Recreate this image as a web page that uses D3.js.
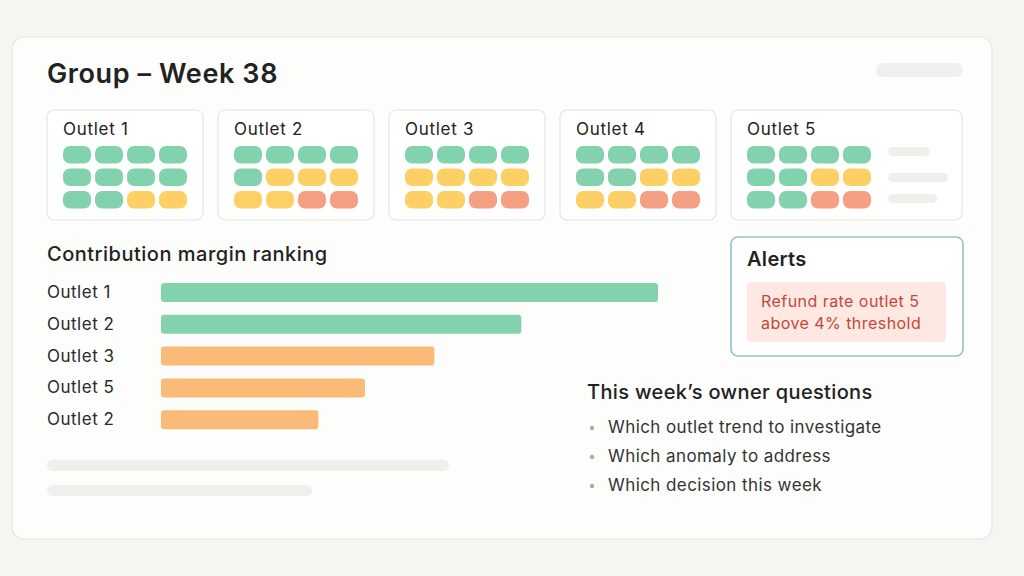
<!DOCTYPE html>
<html><head><meta charset="utf-8">
<script src="https://cdn.jsdelivr.net/npm/d3@7"></script>
<style>
html,body{margin:0;padding:0;background:#f7f5f1;}
svg{display:block;font-family:Inter,"Noto Sans",sans-serif;}
</style></head>
<body>
<svg id="chart" width="1024" height="576"></svg>
<script>
// ---- data ----
const pageTitle = "Group – Week 38";
const outlets = ["Outlet 1", "Outlet 2", "Outlet 3", "Outlet 4", "Outlet 5"];
// status tiles per outlet, 3 rows x 4 cols (g = good, y = watch, r = alert)
const outlet1Tiles = ["g","g","g","g", "g","g","g","g", "g","g","y","y"];
const outlet2Tiles = ["g","g","g","g", "g","y","y","y", "y","y","r","r"];
const outlet3Tiles = ["g","g","g","g", "y","y","y","y", "y","y","r","r"];
const outlet4Tiles = ["g","g","g","g", "g","g","y","y", "y","y","r","r"];
const outlet5Tiles = ["g","g","g","g", "g","g","y","y", "g","g","r","r"];
const tileSets = [outlet1Tiles, outlet2Tiles, outlet3Tiles, outlet4Tiles, outlet5Tiles];

const rankingTitle = "Contribution margin ranking";
const rankLabels = ["Outlet 1", "Outlet 2", "Outlet 3", "Outlet 5", "Outlet 2"];
const rankValues = [48.0, 34.8, 26.4, 19.7, 15.2];
const rankStatus = ["g", "g", "o", "o", "o"];

const alertsTitle = "Alerts";
const alertLines = ["Refund rate outlet 5", "above 4% threshold"];

const questionsTitle = "This week’s owner questions";
const questions = ["Which outlet trend to investigate", "Which anomaly to address", "Which decision this week"];

// ---- styles ----
const colors = {g: "#82d2ad", y: "#fcd064", r: "#f59f83", o: "#fbbb78"};
const ink = "#222222";
const placeholder = "#f0efeb";

const svg = d3.select("#chart");

// main card
svg.append("rect").attr("x", 12).attr("y", 37).attr("width", 980).attr("height", 502)
  .attr("rx", 12).attr("fill", "#fdfdfc").attr("stroke", "#e8e6e1").attr("stroke-width", 1.2);

svg.append("text").attr("x", 47).attr("y", 83).attr("font-size", 27).attr("font-weight", 600)
  .attr("letter-spacing", 0.6).attr("fill", ink).text(pageTitle);
svg.append("rect").attr("x", 876).attr("y", 63).attr("width", 87).attr("height", 14).attr("rx", 7)
  .attr("fill", placeholder);

// outlet cards
const cardW = 156, cardStep = 171;
const tileCol = d3.scaleBand().domain(d3.range(4)).range([63, 63 + 3 * 32 + 28]).paddingInner(4 / 32).paddingOuter(0);
const tileRow = d3.scaleBand().domain(d3.range(3)).range([146, 146 + 2 * 22.5 + 17.5]).paddingInner(5 / 22.5).paddingOuter(0);

outlets.forEach((name, i) => {
  const dx = i * cardStep;
  const w = i === 4 ? 231 : cardW;
  const g = svg.append("g").attr("transform", `translate(${dx},0)`);
  g.append("rect").attr("x", 47).attr("y", 110).attr("width", w).attr("height", 110).attr("rx", 7)
    .attr("fill", "#ffffff").attr("stroke", "#e6e4df").attr("stroke-width", 1.2);
  g.append("text").attr("x", 63).attr("y", 135).attr("font-size", 17).attr("letter-spacing", 0.7)
    .attr("fill", ink).text(name);
  g.selectAll("rect.tile").data(tileSets[i]).join("rect").attr("class", "tile")
    .attr("x", (d, k) => tileCol(k % 4)).attr("y", (d, k) => tileRow(Math.floor(k / 4)))
    .attr("width", tileCol.bandwidth()).attr("height", tileRow.bandwidth()).attr("rx", 7)
    .attr("fill", d => colors[d]);
  if (i === 4) {
    const ph = [[147, 42], [173, 60], [194, 49]];
    ph.forEach(p => g.append("rect").attr("x", 888 - dx).attr("y", p[0]).attr("width", p[1])
      .attr("height", 9).attr("rx", 4.5).attr("fill", placeholder));
  }
});

// ranking
svg.append("text").attr("x", 47).attr("y", 261).attr("font-size", 20).attr("font-weight", 500)
  .attr("letter-spacing", 0.5).attr("fill", ink).text(rankingTitle);
const xR = d3.scaleLinear().domain([0, 48]).range([161, 658]);
const yR = d3.scaleBand().domain(d3.range(rankValues.length)).range([283, 283 + 4 * 31.8 + 19]).paddingInner(12.8 / 31.8).paddingOuter(0);
svg.append("g").selectAll("rect").data(rankValues).join("rect")
  .attr("x", xR(0)).attr("y", (d, i) => yR(i)).attr("width", d => xR(d) - xR(0))
  .attr("height", yR.bandwidth()).attr("rx", 3).attr("fill", (d, i) => colors[rankStatus[i]]);
const yAxis = d3.axisLeft(yR).tickFormat(i => rankLabels[i]).tickSize(0).tickPadding(0);
const ax = svg.append("g").attr("transform", "translate(47,0)").call(yAxis);
ax.select(".domain").remove();
ax.selectAll("text").attr("text-anchor", "start").attr("font-size", 17).attr("letter-spacing", 0.5)
  .attr("font-family", "Inter,'Noto Sans',sans-serif").attr("fill", "#2a2a2a");

svg.append("rect").attr("x", 47).attr("y", 460).attr("width", 402).attr("height", 11).attr("rx", 5.5).attr("fill", placeholder);
svg.append("rect").attr("x", 47).attr("y", 485).attr("width", 265).attr("height", 11).attr("rx", 5.5).attr("fill", placeholder);

// alerts
svg.append("rect").attr("x", 731).attr("y", 237).attr("width", 232).attr("height", 119).attr("rx", 7)
  .attr("fill", "#ffffff").attr("stroke", "#8ec4ca").attr("stroke-width", 1.6);
svg.append("text").attr("x", 747).attr("y", 266).attr("font-size", 20).attr("font-weight", 600)
  .attr("letter-spacing", 0.3).attr("fill", ink).text(alertsTitle);
svg.append("rect").attr("x", 747).attr("y", 282).attr("width", 199).attr("height", 60).attr("rx", 4)
  .attr("fill", "#fde8e2");
svg.selectAll("text.alert").data(alertLines).join("text").attr("class", "alert")
  .attr("x", 761).attr("y", (d, i) => 307 + i * 21.5).attr("font-size", 16).attr("letter-spacing", 0.45)
  .attr("fill", "#c4473b").text(d => d);

// questions
svg.append("text").attr("x", 587).attr("y", 399).attr("font-size", 20).attr("font-weight", 500)
  .attr("letter-spacing", 0.35).attr("fill", ink).text(questionsTitle);
const qg = svg.append("g");
questions.forEach((q, i) => {
  const y = 433 + i * 29;
  qg.append("circle").attr("cx", 592).attr("cy", y - 5).attr("r", 2.2).attr("fill", "#a8aca9");
  qg.append("text").attr("x", 608).attr("y", y).attr("font-size", 17).attr("letter-spacing", 0.42)
    .attr("fill", "#333").text(q);
});
</script>
</body></html>
